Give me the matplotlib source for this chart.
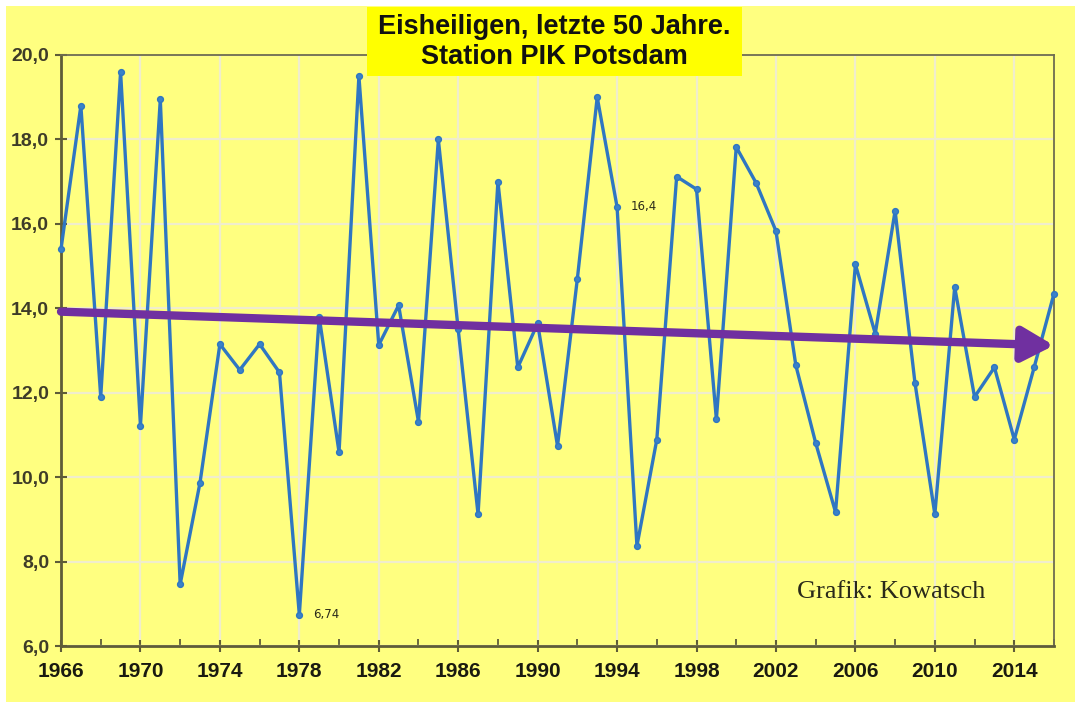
import matplotlib
matplotlib.use("Agg")
import matplotlib.pyplot as plt
from matplotlib.patches import Rectangle
import matplotlib.ticker as mticker

# ---- data ----
years = list(range(1966, 2017))
temps = [15.4, 18.8, 11.9, 19.6, 11.22, 18.95, 7.46, 9.87, 13.15, 12.54,
         13.15, 12.48, 6.74, 13.8, 10.59, 19.5, 13.13, 14.07, 11.31, 18.0,
         13.5, 9.12, 17.0, 12.6, 13.64, 10.74, 14.7, 19.0, 16.4, 8.37,
         10.89, 17.12, 16.82, 11.37, 17.82, 16.97, 15.83, 12.65, 10.81, 9.17,
         15.04, 13.4, 16.31, 12.23, 9.12, 14.5, 11.9, 12.6, 10.89, 12.6,
         14.35]
trend_years = [1966, 2016]
trend_values = [13.92, 13.12]
major_years = list(range(1966, 2015, 4))
minor_years = list(range(1968, 2017, 4))
title_lines = ["Eisheiligen, letzte 50 Jahre.", "Station PIK Potsdam"]
labelled = {1978: "6,74", 1994: "16,4"}
credit = "Grafik: Kowatsch"

BG = "#FFFF80"
fig = plt.figure(figsize=(10.75, 7.02), dpi=100, facecolor="white")
fig.patches.append(Rectangle((6/1075, 0), 1, 1 - 6/702, transform=fig.transFigure,
                             facecolor=BG, edgecolor="none", zorder=-10))

ax = fig.add_axes([61/1075, 1 - 646/702, (1054 - 61)/1075, (646 - 55)/702])
ax.set_facecolor(BG)
ax.set_xlim(1966, 2016)
ax.set_ylim(6, 20)

ax.xaxis.set_major_locator(mticker.FixedLocator(major_years))
ax.xaxis.set_minor_locator(mticker.FixedLocator(minor_years))
ax.yaxis.set_major_locator(mticker.MultipleLocator(2))
ax.yaxis.set_major_formatter(mticker.FuncFormatter(lambda v, p: f"{v:.1f}".replace(".", ",")))
ax.xaxis.set_major_formatter(mticker.FuncFormatter(lambda v, p: f"{int(round(v))}"))

ax.grid(True, which="major", color="#F0EDCC", lw=1.6)
ax.set_axisbelow(True)

spine_c = "#5E5C38"
for s in ["left", "bottom"]:
    ax.spines[s].set_color(spine_c)
    ax.spines[s].set_linewidth(2)
for s in ["top", "right"]:
    ax.spines[s].set_color("#6E6C50")
    ax.spines[s].set_linewidth(1.3)

ax.tick_params(axis="x", which="major", direction="inout", length=9, width=1.5,
               color=spine_c, labelsize=15, pad=7, labelcolor="#1A1A10")
ax.tick_params(axis="x", which="minor", direction="in", length=5, width=1.3, color=spine_c)
ax.tick_params(axis="y", which="major", direction="inout", length=9, width=1.5,
               color=spine_c, labelsize=14, pad=4, labelcolor="#3E3C28")
for lab in ax.get_xticklabels() + ax.get_yticklabels():
    lab.set_fontfamily("Liberation Sans")
    lab.set_fontweight("bold")

ax.plot(years, temps, color="#2F76C2", lw=2.4, marker="o", markersize=4.2,
        markerfacecolor="#3A82C8", markeredgecolor="#2F76C2", zorder=3, clip_on=False)

ax.annotate("", xy=(trend_years[1], trend_values[1]), xytext=(trend_years[0], trend_values[0]),
            arrowprops=dict(arrowstyle="-|>,head_length=1.0,head_width=0.55", lw=6,
                            color="#7030A0", mutation_scale=19, shrinkA=0, shrinkB=0),
            zorder=4)

for yr, txt in labelled.items():
    val = temps[years.index(yr)]
    ax.annotate(txt, xy=(yr, val), xytext=(10, 0), textcoords="offset points",
                fontsize=8.5, color="#2A2A1A", va="center", ha="left",
                fontfamily="DejaVu Sans")

ax.text(0.836, 0.0914, credit, transform=ax.transAxes, fontsize=19,
        fontfamily="Liberation Serif", color="#2A2A1A", ha="center", va="center")

# title box
fig.patches.append(Rectangle((367/1075, 1 - 76/702), (742 - 367)/1075, (76 - 7)/702,
                             transform=fig.transFigure, facecolor="#FFFF00",
                             edgecolor="none", zorder=5))
fig.text(554/1075, 1 - 27/702, title_lines[0], ha="center", va="center", fontsize=19.5,
         fontweight="bold", fontfamily="Liberation Sans", color="#111111", zorder=6)
fig.text(554/1075, 1 - 57/702, title_lines[1], ha="center", va="center", fontsize=19.5,
         fontweight="bold", fontfamily="Liberation Sans", color="#111111", zorder=6)

fig.savefig("out.png", dpi=100, facecolor="white")
